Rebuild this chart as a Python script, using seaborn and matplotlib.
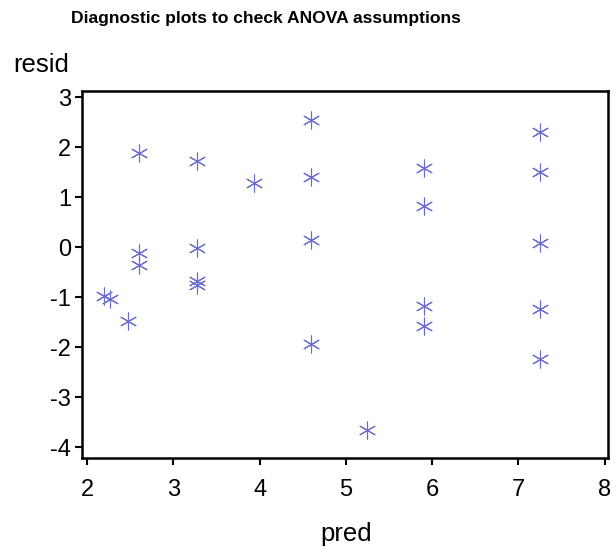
import matplotlib
matplotlib.use("Agg")
import matplotlib.pyplot as plt
import seaborn as sns
import pandas as pd

pred = [2.20, 2.26, 2.47,
        2.60, 2.60, 2.60,
        3.27, 3.27, 3.27, 3.27,
        3.93,
        4.59, 4.59, 4.59, 4.59,
        5.25,
        5.91, 5.91, 5.91, 5.91,
        7.25, 7.25, 7.25, 7.25, 7.25]
resid = [-0.97, -1.03, -1.48,
         1.88, -0.12, -0.36,
         1.73, -0.02, -0.68, -0.76,
         1.29,
         2.55, 1.40, 0.15, -1.93,
         -3.66,
         1.58, 0.83, -1.17, -1.58,
         2.31, 1.50, 0.09, -1.24, -2.24]
xticks = [2, 3, 4, 5, 6, 7, 8]
yticks = [3, 2, 1, 0, -1, -2, -3, -4]

df = pd.DataFrame({"pred": pred, "resid": resid})

sns.set_style("white")
plt.rcParams["font.family"] = ["Liberation Sans", "DejaVu Sans"]
plt.rcParams["axes.unicode_minus"] = False
plt.rcParams["text.color"] = "black"

fig = plt.figure(figsize=(6.16, 5.5), dpi=100)
ax = fig.add_axes([82 / 616, 1 - 458 / 550, (608 - 82) / 616, (458 - 91) / 550])

sns.scatterplot(data=df, x="pred", y="resid", ax=ax, marker=(6, 2, 0),
                s=150, color="#6c6cce", edgecolor="#6c6cce", linewidth=0.8)

ax.set_xlim(1.94, 8.04)
ax.set_ylim(-4.22, 3.12)
ax.set_xticks(xticks)
ax.set_yticks(yticks)
ax.set_xticklabels([str(t) for t in xticks])
ax.set_yticklabels([str(t) for t in yticks])
ax.tick_params(axis="both", which="major", direction="out", length=5, width=1.5,
               labelsize=17, color="black", labelcolor="black", pad=3,
               bottom=True, left=True)
ax.tick_params(axis="x", pad=10)
for sp in ax.spines.values():
    sp.set_visible(True)
    sp.set_color("black")
    sp.set_linewidth(1.8)
ax.set_xlabel("")
ax.set_ylabel("")

fig.text(266 / 616, 1 - 19 / 550, "Diagnostic plots to check ANOVA assumptions",
         ha="center", va="center", fontsize=12.6, fontweight="bold", color="black")
fig.text(13 / 616, 1 - 72 / 550, "resid", ha="left", va="baseline", fontsize=18.5, color="black")
fig.text(346 / 616, 1 - 541 / 550, "pred", ha="center", va="baseline", fontsize=18.5, color="black")

fig.savefig("out.png", dpi=100, facecolor="white")
